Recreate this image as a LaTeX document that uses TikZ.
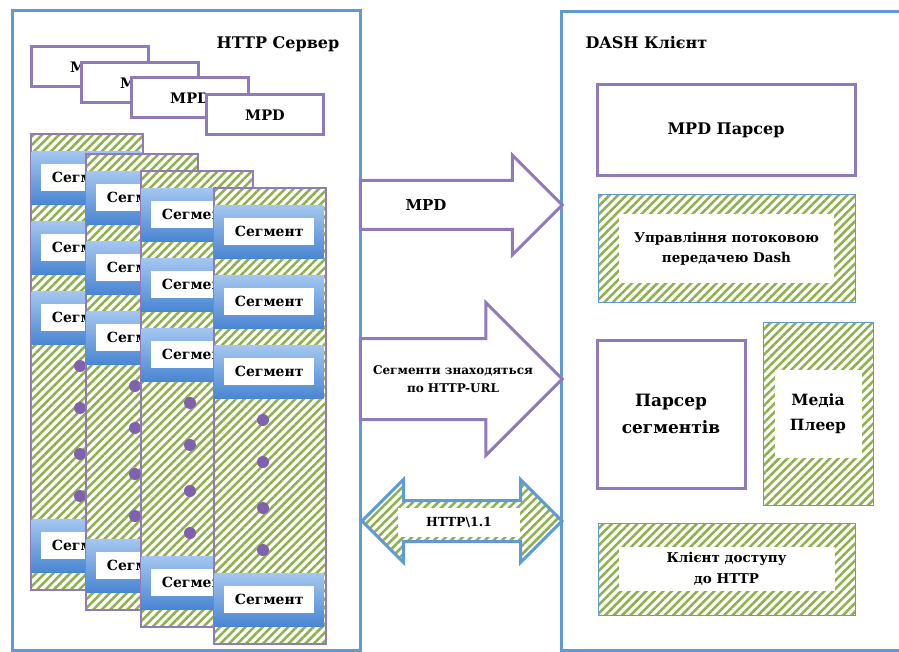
\documentclass[tikz,border=0pt]{standalone}
\usepackage{fontspec}
\setmainfont{DejaVu Serif}
\usetikzlibrary{shapes.arrows, patterns.meta}

\definecolor{srvblue}{HTML}{5E9BD6}
\definecolor{mpdpurple}{HTML}{9079BC}
\definecolor{stripe}{HTML}{8DB04B}
\definecolor{bandtop}{HTML}{A4C6EF}
\definecolor{bandbot}{HTML}{4A86D3}
\definecolor{dotcol}{HTML}{8061AE}

\tikzstyle{hatch} = [
    preaction={fill=white},
    pattern={Lines[angle=45, distance=6pt, line width=2.5pt]},
    pattern color=stripe
]
\tikzstyle{panel} = [
    rectangle,
    draw=srvblue,
    line width=3pt
]
\tikzstyle{title} = [
    font=\fontsize{16}{19}\selectfont\bfseries
]
\tikzstyle{mpdbox} = [
    rectangle,
    draw=mpdpurple,
    line width=3pt,
    fill=white,
    minimum width=117pt,
    minimum height=40pt,
    font=\fontsize{14.5}{17}\selectfont\bfseries
]
\tikzstyle{segcol} = [
    rectangle,
    hatch,
    draw=mpdpurple,
    line width=2pt,
    minimum width=112pt,
    minimum height=456pt,
    anchor=north west
]
\tikzstyle{band} = [
    rectangle,
    top color=bandtop,
    bottom color=bandbot,
    minimum width=109pt,
    minimum height=53pt,
    inner sep=0pt,
    anchor=north west
]
\tikzstyle{segbox} = [
    rectangle,
    fill=white,
    minimum width=90pt,
    minimum height=27pt,
    inner sep=0pt,
    font=\fontsize{14}{16}\selectfont\bfseries
]
\tikzstyle{clientbox} = [
    rectangle,
    draw=mpdpurple,
    line width=3pt,
    fill=white,
    align=center
]
\tikzstyle{hatchbox} = [
    rectangle,
    hatch,
    draw=srvblue,
    line width=1pt
]
\tikzstyle{innerbox} = [
    rectangle,
    fill=white,
    inner sep=0pt,
    align=center
]
\tikzstyle{flowarrow} = [
    single arrow,
    draw=mpdpurple,
    line width=3pt,
    fill=white,
    inner xsep=0pt
]
\tikzstyle{httparrow} = [
    double arrow,
    hatch,
    draw=srvblue,
    line width=3pt,
    inner xsep=0pt
]

\begin{document}
\begin{tikzpicture}[x=1pt, y=-1pt]

\useasboundingbox (0,0) rectangle (899,652);
\clip (0,0) rectangle (899,652);

\node (srv) [panel, minimum width=348pt, minimum height=639pt] at (186,330.5) {};

\node (srvtitle) [title] at (278,44) {HTTP Сервер};

\node (mpd1) [mpdbox] at (90,67) {MPD};
\node (mpd2) [mpdbox] at (140,83) {MPD};
\node (mpd3) [mpdbox] at (190,98) {MPD};
\node (mpd4) [mpdbox] at (265,115) {MPD};

\foreach \c/\X/\Y in {1/30/133, 2/85/153, 3/140/170, 4/213/187} {
    \node (col\c) [segcol] at (\X,\Y) {};
    \foreach \s/\d in {1/18, 2/88, 3/158, 4/386} {
        \node (band\c-\s) [band] at (\X+1.5,\Y+\d) {};
        \node (seg\c-\s) [segbox] at (band\c-\s) {Сегмент};
    }
    \foreach \d in {233, 275, 321, 363}
        \fill [dotcol] (\X+50,\Y+\d) circle (6pt);
}

\node (cli) [panel, minimum width=350pt, minimum height=638pt] at (736,331) {};

\node (clititle) [title, anchor=west] at (582,43) {DASH Клієнт};

\node (mpdparser) [clientbox, minimum width=258pt, minimum height=91pt,
    font=\fontsize{16}{19}\selectfont\bfseries] at (726,130.5) {MPD Парсер};

\node (ctrl) [hatchbox, minimum width=257pt, minimum height=107pt] at (726.5,248.5) {};
\node (ctrltext) [innerbox, minimum width=215pt, minimum height=68pt,
    font=\fontsize{13.5}{20}\selectfont\bfseries] at (ctrl) {Управління потоковою\\передачею Dash};

\node (segparser) [clientbox, minimum width=148pt, minimum height=148pt,
    font=\fontsize{17}{27}\selectfont\bfseries] at (671,414) {Парсер\\сегментів};

\node (player) [hatchbox, minimum width=110pt, minimum height=183pt] at (818,413.5) {};
\node (playertext) [innerbox, minimum width=87pt, minimum height=88pt,
    font=\fontsize{15.5}{25}\selectfont\bfseries] at (player) {Медіа\\Плеер};

\node (access) [hatchbox, minimum width=257pt, minimum height=92pt] at (726.5,569) {};
\node (accesstext) [innerbox, minimum width=216pt, minimum height=44pt,
    font=\fontsize{13.5}{21}\selectfont\bfseries] at (access) {Клієнт доступу\\до HTTP};

\node (mpdarrow) [flowarrow, minimum height=202pt, inner ysep=23pt,
    single arrow head extend=25.5pt] at (449,205) {};
\node (mpdlabel) [font=\fontsize{15}{18}\selectfont\bfseries] at (426,205) {MPD};

\node (segarrow) [flowarrow, minimum height=202pt, inner ysep=39pt,
    single arrow head extend=36pt] at (441,379) {};
\node (seglabel) [align=center, font=\fontsize{12}{18}\selectfont\bfseries] at (453,379)
{Сегменти знаходяться\\по HTTP-URL};

\node (httparrow) [httparrow, minimum height=200pt, inner ysep=19pt,
    double arrow head extend=21pt] at (462,521) {};
\node (httplabel) [innerbox, minimum width=122pt, minimum height=29pt,
    font=\fontsize{12.5}{15}\selectfont\bfseries] at (459,522) {HTTP\textbackslash 1.1};

\end{tikzpicture}
\end{document}
